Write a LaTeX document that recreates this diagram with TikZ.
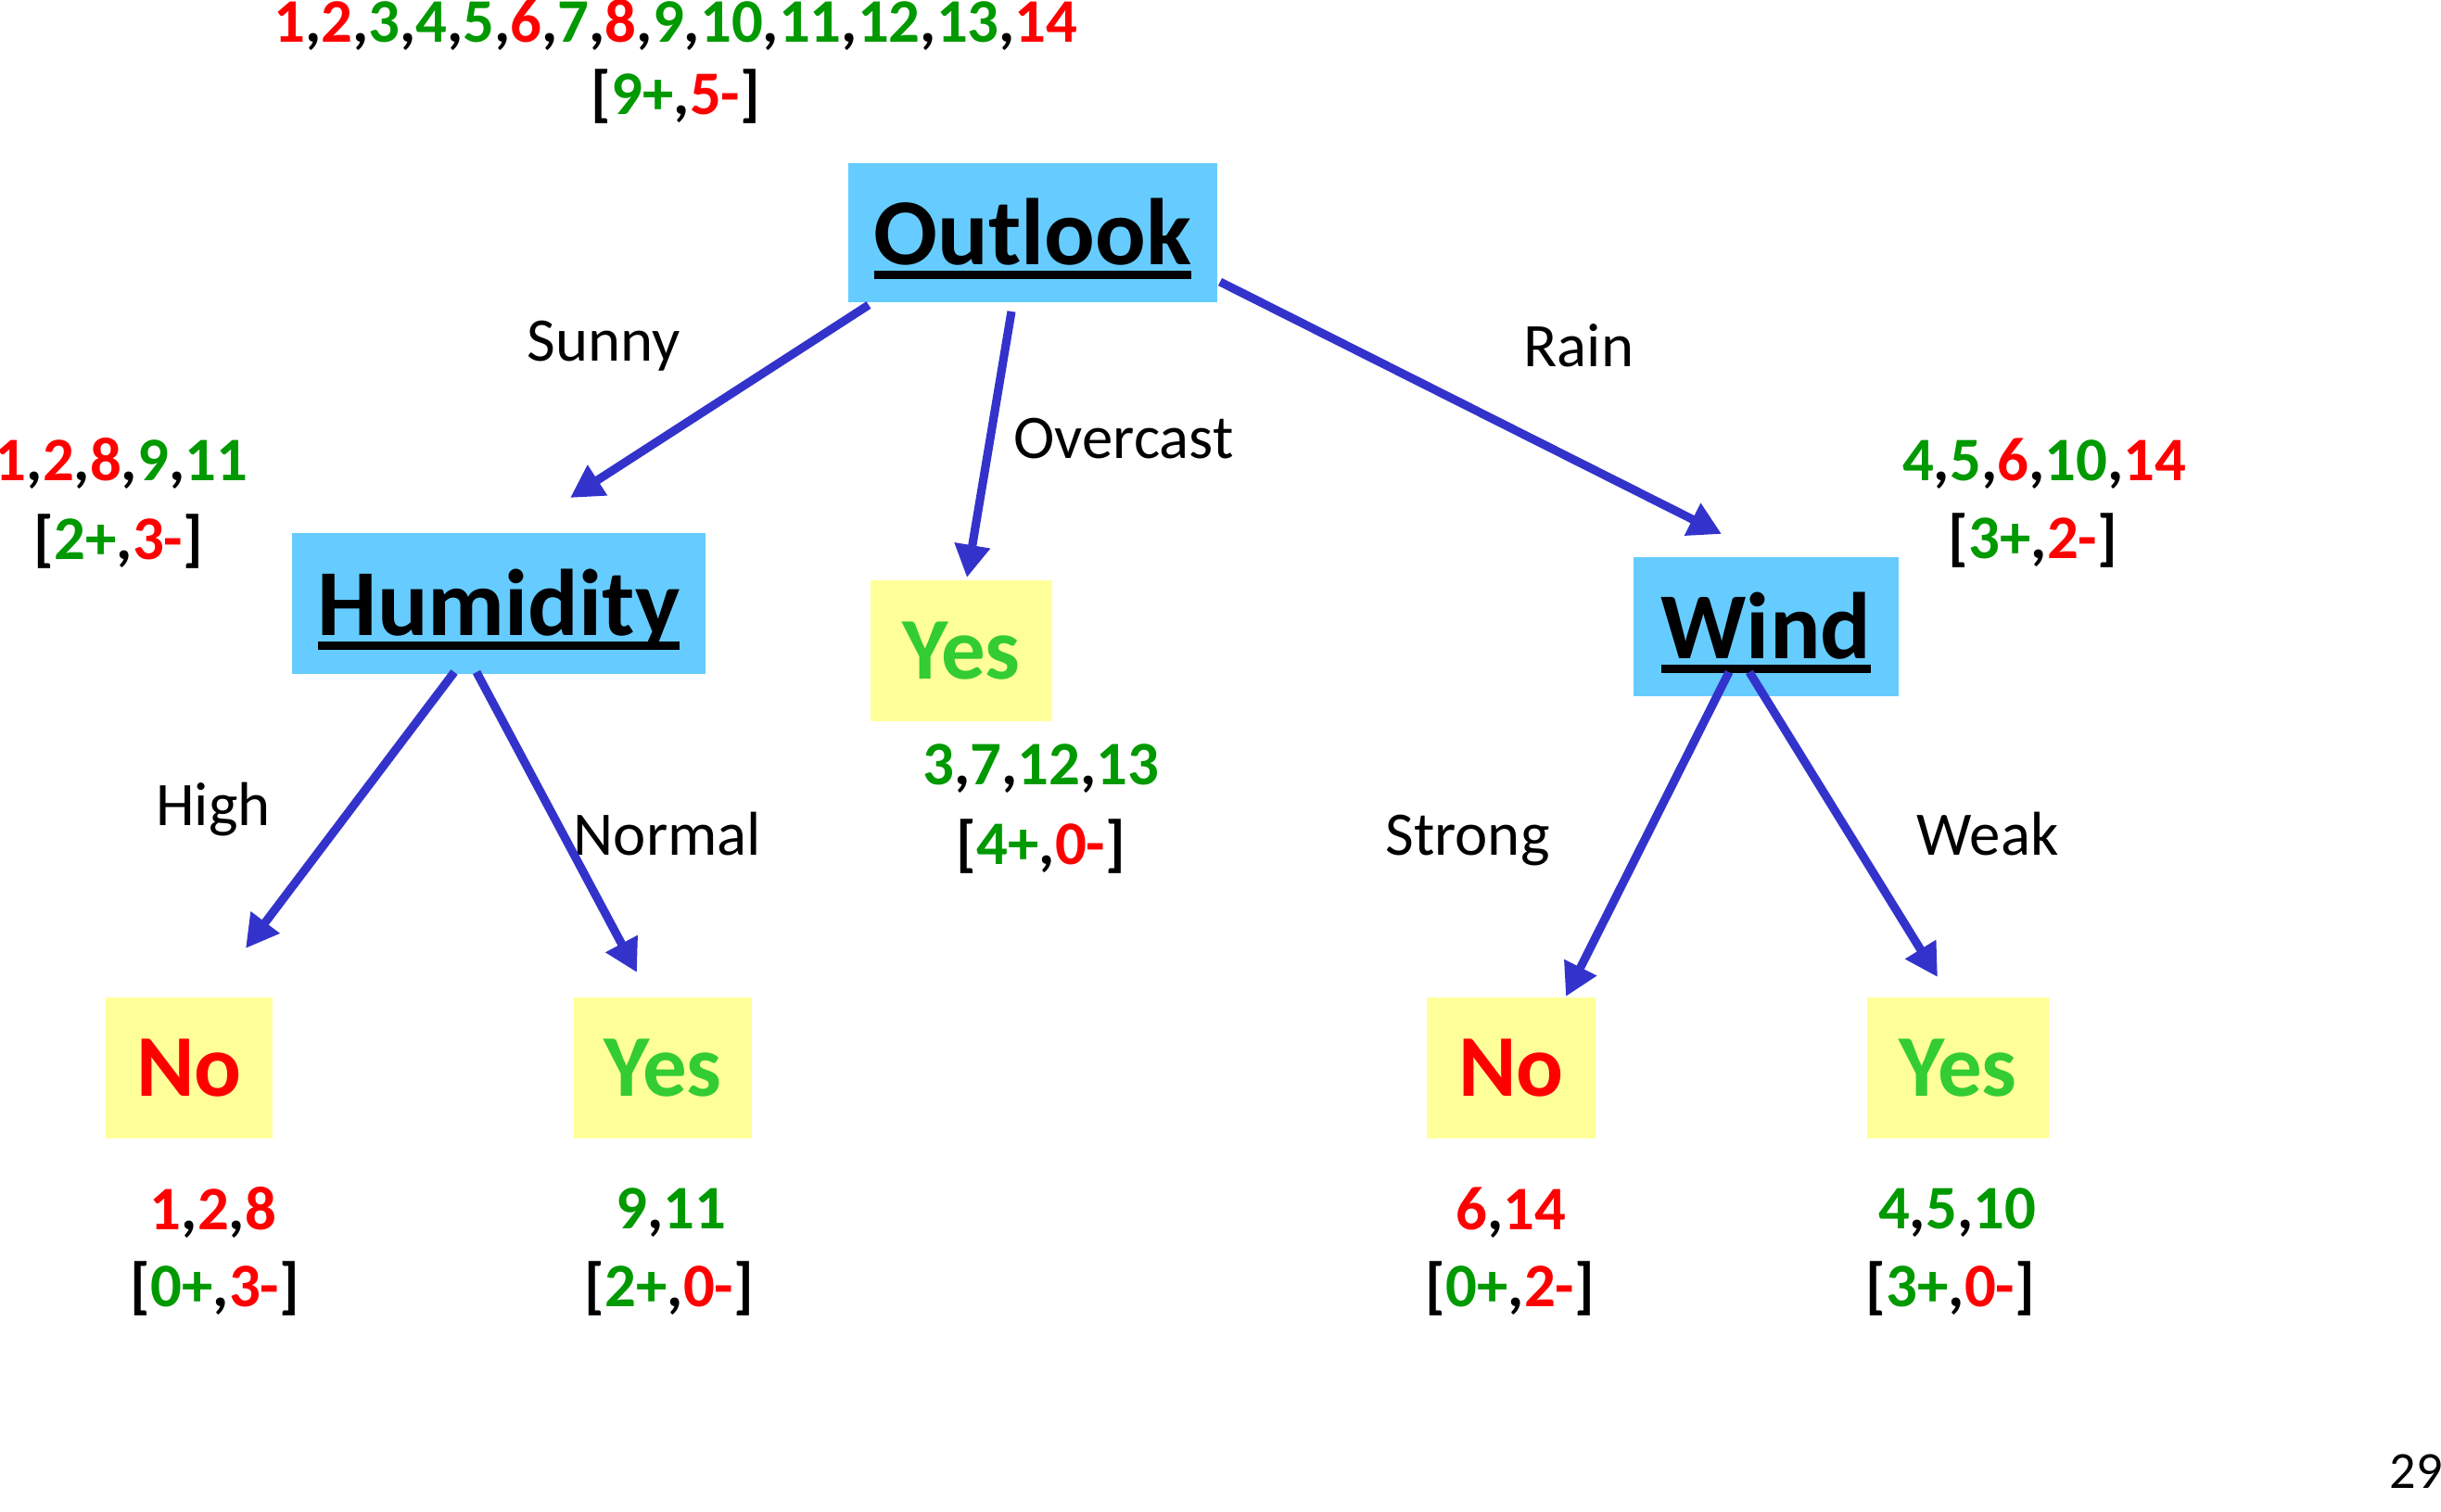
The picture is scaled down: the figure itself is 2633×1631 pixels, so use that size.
\documentclass[tikz,border=0pt]{standalone}
\usepackage{fontspec}
\setmainfont{Carlito}
\usetikzlibrary{arrows.meta}
\definecolor{boxblue}{HTML}{66CCFF}
\definecolor{leafyellow}{HTML}{FFFF99}
\definecolor{numgreen}{HTML}{009900}
\definecolor{numred}{HTML}{FF0000}
\definecolor{yesgreen}{HTML}{33CC33}
\definecolor{arrowblue}{HTML}{3333CC}
\newcommand\G[1]{\textcolor{numgreen}{#1}}
\newcommand\R[1]{\textcolor{numred}{#1}}
\newcommand\myul[1]{\setbox0=\hbox{#1}\copy0\hskip-\wd0\rule[-4.6pt]{\wd0}{2.5pt}}
\tikzset{
  attrbox/.style={fill=boxblue, inner sep=0pt, text height=19.4pt, text depth=0pt, font=\fontsize{29}{34}\selectfont\bfseries},
  leafbox/.style={fill=leafyellow, inner sep=0pt, font=\fontsize{27}{32}\selectfont\bfseries},
  nums/.style={inner sep=0pt, font=\fontsize{19}{23}\selectfont\bfseries},
  edgelbl/.style={inner sep=0pt, font=\fontsize{19}{23}\selectfont},
  branch/.style={draw=arrowblue, line width=2.6pt, -{Triangle[length=10pt,width=10.5pt]}, shorten >=0pt}
}
\begin{document}
\begin{tikzpicture}[x=0.01cm,y=-0.01cm]
\useasboundingbox (0,0) rectangle (2633,1631);
% attribute boxes
\node[attrbox, minimum width=3.98cm, minimum height=1.50cm] (outlook) at (1114,251) {\myul{Outlook}};
\node[attrbox, minimum width=4.45cm, minimum height=1.51cm] (humidity) at (538,651) {\myul{Humidity}};
\node[attrbox, minimum width=2.85cm, minimum height=1.50cm] (wind) at (1905,676) {\myul{Wind}};
% leaves
\node[leafbox, minimum width=1.96cm, minimum height=1.51cm, text=yesgreen] (yesmid) at (1037,702) {Yes};
\node[leafbox, minimum width=1.80cm, minimum height=1.51cm, text=numred] (noleft) at (204,1152) {No};
\node[leafbox, minimum width=1.91cm, minimum height=1.51cm, text=yesgreen] (yesleft) at (715,1152) {Yes};
\node[leafbox, minimum width=1.81cm, minimum height=1.51cm, text=numred] (noright) at (1630,1152) {No};
\node[leafbox, minimum width=1.95cm, minimum height=1.51cm, text=yesgreen] (yesright) at (2112,1152) {Yes};
% example sets
\node[nums, anchor=base] (topset) at (729,46) {\R{1},\R{2},\G{3},\G{4},\G{5},\R{6},\G{7},\R{8},\G{9},\G{10},\G{11},\G{12},\G{13},\R{14}};
\node[nums] (topcnt) at (729,104) {[\G{9+},\R{5-}]};
\node[nums] (sunset) at (131,500) {\R{1},\R{2},\R{8},\G{9},\G{11}};
\node[nums] (suncnt) at (128,584) {[\G{2+},\R{3-}]};
\node[nums] (ovset) at (1123,829) {\G{3},\G{7},\G{12},\G{13}};
\node[nums] (ovcnt) at (1123,913) {[\G{4+},\R{0-}]};
\node[nums] (rainset) at (2205,500) {\G{4},\G{5},\R{6},\G{10},\R{14}};
\node[nums] (raincnt) at (2193,583) {[\G{3+},\R{2-}]};
\node[nums] (hiset) at (230,1308) {\R{1},\R{2},\R{8}};
\node[nums] (hicnt) at (232,1390) {[\G{0+},\R{3-}]};
\node[nums] (noset) at (724,1308) {\G{9},\G{11}};
\node[nums] (nocnt) at (722,1390) {[\G{2+},\R{0-}]};
\node[nums] (stset) at (1630,1308) {\R{6},\R{14}};
\node[nums] (stcnt) at (1629,1390) {[\G{0+},\R{2-}]};
\node[nums] (wkset) at (2111,1308) {\G{4},\G{5},\G{10}};
\node[nums] (wkcnt) at (2104,1390) {[\G{3+},\R{0-}]};
% edge labels
\node[edgelbl] (lsunny) at (651,373) {Sunny};
\node[edgelbl] (lover) at (1212,473) {Overcast};
\node[edgelbl] (lrain) at (1703,373) {Rain};
\node[edgelbl] (lhigh) at (230,873) {High};
\node[edgelbl] (lnormal) at (720,900) {Normal};
\node[edgelbl] (lstrong) at (1583,907) {Strong};
\node[edgelbl] (lweak) at (2144,900) {Weak};
\node[inner sep=0pt, font=\fontsize{16}{19}\selectfont] (pagenum) at (2606,1587) {29};
% arrow endpoints
\coordinate (sOut1) at (937,329);
\coordinate (sOut2) at (1091,336);
\coordinate (sOut3) at (1316,304);
\coordinate (tSunny) at (615,537);
\coordinate (tOver) at (1043,623);
\coordinate (tRain) at (1857,576);
\coordinate (sHum1) at (490,725);
\coordinate (sHum2) at (514,725);
\coordinate (tHigh) at (265,1023);
\coordinate (tNormal) at (687,1049);
\coordinate (sWind1) at (1865,725);
\coordinate (sWind2) at (1887,725);
\coordinate (tStrong) at (1689,1075);
\coordinate (tWeak) at (2090,1054);
\draw[branch] (sOut1) -- (tSunny);
\draw[branch] (sOut2) -- (tOver);
\draw[branch] (sOut3) -- (tRain);
\draw[branch] (sHum1) -- (tHigh);
\draw[branch] (sHum2) -- (tNormal);
\draw[branch] (sWind1) -- (tStrong);
\draw[branch] (sWind2) -- (tWeak);
\end{tikzpicture}
\end{document}
